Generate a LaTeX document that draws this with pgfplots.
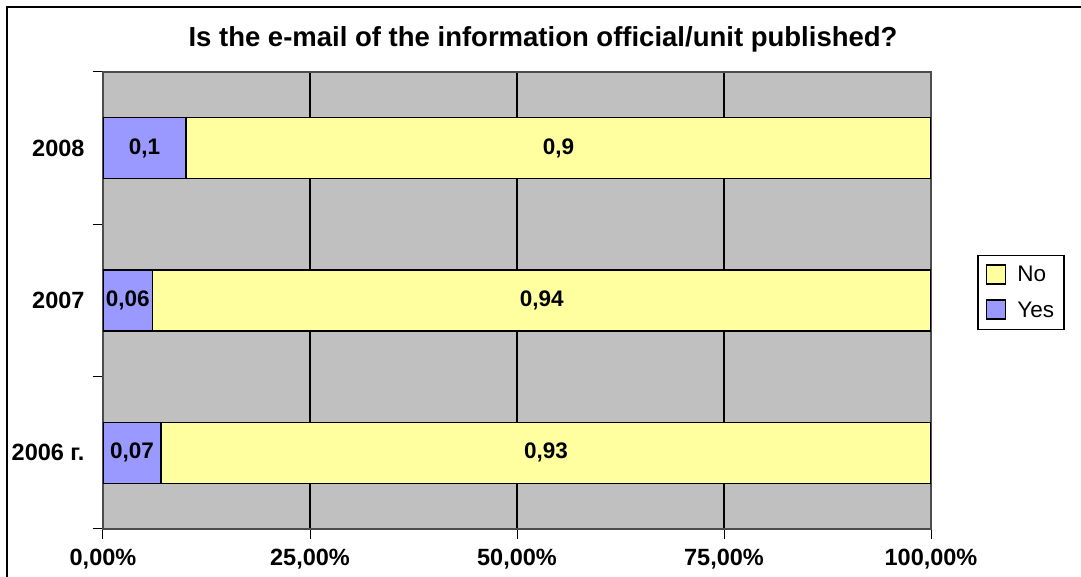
\documentclass[border=0pt]{standalone}
\usepackage{pgfplots}
\pgfplotsset{compat=1.18}
\usepackage{pgfplotstable}
\usepackage{fontspec}
\setmainfont{Liberation Sans}
\definecolor{yesc}{HTML}{9999FF}
\definecolor{noc}{HTML}{FFFFA0}
\definecolor{bgc}{HTML}{C0C0C0}

\pgfplotstableread{
pos yes no
0 0.07 0.93
1 0.06 0.94
2 0.10 0.90
}\data

\begin{document}
\begin{tikzpicture}[x=1pt,y=1pt]
\path[use as bounding box] (0,0) rectangle (1081,577);
\draw[line width=2pt] (6.5,-10) -- (6.5,570) -- (1090,570);
\node[font=\bfseries\fontsize{27.5}{30}\selectfont] at (543,538) {Is the e-mail of the information official/unit published?};
\begin{axis}[
 at={(103pt,48pt)}, anchor=south west,
 scale only axis, width=828pt, height=457pt,
 xbar stacked, bar width=0.4,
 xmin=0, xmax=1, ymin=-0.5, ymax=2.5,
 axis background/.style={fill=bgc},
 xtick={0,0.25,0.5,0.75,1},
 xticklabels={{0,00\%},{25,00\%},{50,00\%},{75,00\%},{100,00\%}},
 ytick={-0.5,0.5,1.5,2.5}, yticklabels={},
 extra y ticks={0,1,2}, extra y tick labels={2006 г.,2007,2008},
 extra y tick style={major tick length=0pt, grid=none},
 xtick pos=bottom, ytick pos=left,
 xmajorgrids, major grid style={black, line width=2pt},
 tick align=outside, major tick length=10pt,
 tick style={black, line width=1pt},
 axis line style={black!70, line width=1.5pt},
 ticklabel style={font=\bfseries\fontsize{23.5}{25}\selectfont},
 xticklabel style={yshift=-7pt},
 yticklabel style={xshift=-15pt},
 /pgf/number format/assume math mode=true,
 /pgf/number format/use comma, /pgf/number format/fixed, /pgf/number format/precision=2,
 nodes near coords style={font=\bfseries\fontsize{22.5}{24}\selectfont},
 legend style={at={(1.1087,0.5175)}, anchor=center, draw=black, line width=1.5pt,
   font=\fontsize{22.5}{26}\selectfont, row sep=14pt, inner xsep=8pt, inner ysep=9pt,
   cells={anchor=west}},
 legend image code/.code={\draw[#1,line width=1.2pt] (0pt,-9pt) rectangle (19pt,10pt);
   \path (28pt,0pt);},
 reverse legend,
]
\addplot[fill=yesc, draw=black, line width=1.5pt,
  nodes near coords, point meta=explicit,
  every node near coord/.append style={anchor=center}]
  table[x=yes, y=pos, meta=yes] {\data};
\addlegendentry{Yes}
\addplot[fill=noc, draw=black, line width=1.5pt,
  nodes near coords, point meta=explicit,
  every node near coord/.append style={anchor=center}]
  table[x=no, y=pos, meta=no] {\data};
\addlegendentry{No}
\end{axis}
\end{tikzpicture}
\end{document}
